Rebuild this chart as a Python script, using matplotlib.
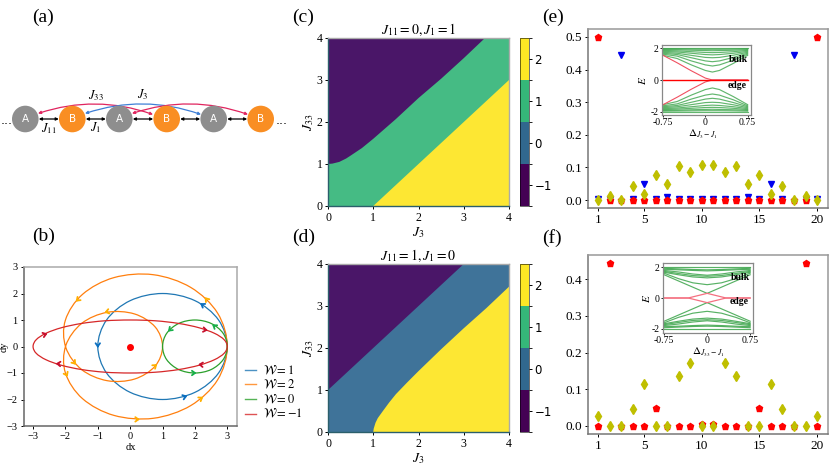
import matplotlib
matplotlib.use("Agg")
import matplotlib.pyplot as plt
import numpy as np
from matplotlib.path import Path
from matplotlib.patches import PathPatch, Circle, FancyArrowPatch
from matplotlib.colors import ListedColormap, BoundaryNorm
from matplotlib.cm import ScalarMappable

plt.rcParams['font.family'] = ['Liberation Serif', 'DejaVu Serif']
plt.rcParams['mathtext.fontset'] = 'stix'

# ---------- panel (b) loops ----------
blue_x = [3, 2.73, 2, 1, 0, -.73, -1, -.73, 0, 1, 2, 2.73]
blue_y = [0, 1, 1.73, 2, 1.73, 1, 0, -1, -1.73, -2, -1.73, -1]
green_x = [3, 2.87, 2.5, 2, 1.5, 1.13, 1, 1.13, 1.5, 2, 2.5, 2.87]
green_y = [0, .5, .87, 1, .87, .5, 0, -.5, -.87, -1, -.87, -.5]
red_x = [3, 2.9, 2.6, 2.12, 1.5, .78, 0, -.78, -1.5, -2.12, -2.6, -2.9,
         -3, -2.9, -2.6, -2.12, -1.5, -.78, 0, .78, 1.5, 2.12, 2.6, 2.9]
red_y = [0, .26, .5, .71, .87, .97, 1, .97, .87, .71, .5, .26,
         0, -.26, -.5, -.71, -.87, -.97, -1, -.97, -.87, -.71, -.5, -.26]
orange_x = [3, 2.70, 1.87, .71, -.5, -1.47, -2, -1.99, -1.5, -.71, .13, .77,
            1, .77, .13, -.71, -1.5, -1.99, -2, -1.47, -.5, .71, 1.87, 2.70]
orange_y = [0, 1.26, 2.23, 2.71, 2.6, 1.97, 1, -.03, -.87, -1.29, -1.23, -.74,
            0, .74, 1.23, 1.29, .87, .03, -1, -1.97, -2.6, -2.71, -2.23, -1.26]
loop_labels = [r'$\mathcal{W}=1$', r'$\mathcal{W}=2$', r'$\mathcal{W}=0$', r'$\mathcal{W}=-1$']
loop_colors = ['#1f77b4', '#ff7f0e', '#2ca02c', '#d62728']

# arrow position (x, y) and direction (dx, dy)
arrows_blue = [(-1, 0, 0, -1), (2.2, 1.6, -1, .8), (1.72, -1.88, 1, .4)]
arrows_orange = [(2.33, 1.82, -.7, 1), (-1.65, 1.73, -.7, -.8), (-.75, 1.3, -1, -.3),
                 (.8, -.7, .8, .8), (-1.7, -.65, .6, -.9), (-1.95, -1.1, .4, -1),
                 (.25, -2.75, 1, 0), (2.22, -1.93, 1, .8)]
arrows_green = [(1.2, .6, -.7, -.8), (2, -1, 1, 0), (2.57, .8, -.8, .7)]
arrows_red = [(-2.6, .47, 1, .4), (2.35, .62, 1, -.2), (-2.25, -.65, -1, .1), (2.15, -.68, -1, .1)]

# ---------- panels (c), (d) phase boundaries ----------
c_up_x = [0, .1, .25, .4, .5, .75, 1, 1.5, 2, 2.5, 3, 3.47, 4]
c_up_y = [1, 1.01, 1.05, 1.13, 1.2, 1.38, 1.6, 2.07, 2.57, 3.03, 3.52, 4, 4]
c_lo_x = [0, 1, 4]
c_lo_y = [0, 0, 3]
d_up_x = [0, 3, 4]
d_up_y = [1, 4, 4]
d_lo_x = [0, 1, 1.01, 1.05, 1.1, 1.2, 1.35, 1.5, 1.75, 2, 2.5, 3, 3.5, 4]
d_lo_y = [0, 0, .08, .22, .33, .48, .7, .9, 1.18, 1.45, 1.97, 2.47, 2.95, 3.46]
phase_ticks = [-1, 0, 1, 2]

# ---------- panels (e), (f) ----------
sites = list(range(1, 21))
e_red = [.5, 0, 0, 0, 0, 0, 0, 0, 0, 0, 0, 0, 0, 0, 0, 0, 0, 0, 0, .5]
e_blue = [.002, .002, .445, .002, .05, .002, .008, .002, .002, .002,
          .002, .002, .002, .008, .002, .05, .002, .445, .002, .002]
e_yellow = [0, .012, 0, .042, .018, .078, .05, .103, .085, .106,
            .106, .085, .103, .05, .078, .018, .042, 0, .012, 0]
f_red = [0, .445, 0, 0, 0, .05, 0, 0, 0, .006, .006, 0, 0, 0, .05, 0, 0, 0, .445, 0]
f_yellow = [.028, 0, 0, .047, .115, 0, 0, .137, .172, 0,
            0, .172, .137, 0, 0, .115, .047, 0, 0, .028]

# ---------- insets ----------
ie_delta = [-.75, -.5, -.25, 0, .125, .25, .5, .75]
ie_bands = [
    [1.55, 1.35, .95, .6, .5, .6, 1.05, 1.55],
    [1.62, 1.5, 1.2, .95, .88, .95, 1.25, 1.62],
    [1.68, 1.6, 1.4, 1.2, 1.15, 1.2, 1.42, 1.68],
    [1.74, 1.68, 1.55, 1.42, 1.4, 1.42, 1.56, 1.74],
    [1.8, 1.76, 1.68, 1.6, 1.58, 1.6, 1.68, 1.8],
    [1.86, 1.83, 1.78, 1.73, 1.72, 1.73, 1.78, 1.86],
    [1.91, 1.9, 1.87, 1.85, 1.84, 1.85, 1.87, 1.91],
    [1.96, 1.95, 1.94, 1.93, 1.93, 1.93, 1.94, 1.96],
    [2, 2, 2, 2, 2, 2, 2, 2],
]
ie_edge_x = [-.75, -.5, -.25, 0, .125, .75]
ie_edge_y = [1.55, 1.08, .58, .12, 0, 0]

if_delta = [-.75, -.5, -.25, 0, .25, .5, .75]
if_bands = [
    [1.6, 1.25, .98, .86, .98, 1.25, 1.6],
    [1.66, 1.5, 1.36, 1.3, 1.36, 1.5, 1.66],
    [1.72, 1.58, 1.45, 1.4, 1.45, 1.58, 1.72],
    [1.78, 1.68, 1.55, 1.47, 1.55, 1.68, 1.78],
    [1.85, 1.82, 1.78, 1.75, 1.78, 1.82, 1.85],
    [1.92, 1.88, 1.84, 1.82, 1.84, 1.88, 1.92],
    [2, 2, 2, 2, 2, 2, 2],
]
if_v_x = [-.75, 0, .75]
if_v_y = [1.5, .3, 1.5]
if_edge_x = [-.75, -.33, 0, .33, .75]
if_edge_y = [0, 0, .3, 0, 0]

W, H = 830, 467
fig = plt.figure(figsize=(8.3, 4.67), dpi=100)


def px_axes(l, t, r, b, **kw):
    return fig.add_axes([l / W, 1 - b / H, (r - l) / W, (b - t) / H], **kw)


def style_spines(ax, lw=1.0, near='#555555', far='#999999'):
    for s in ('left', 'bottom'):
        ax.spines[s].set_color(near)
        ax.spines[s].set_linewidth(lw)
    for s in ('top', 'right'):
        ax.spines[s].set_color(far)
        ax.spines[s].set_linewidth(lw)


def closed_curve(x, y):
    pts = np.column_stack([x, y])
    n = len(pts)
    verts = [pts[0]]
    codes = [Path.MOVETO]
    for i in range(n):
        p0, p1, p2, p3 = pts[i - 1], pts[i], pts[(i + 1) % n], pts[(i + 2) % n]
        verts += [p1 + (p2 - p0) / 6, p2 - (p3 - p1) / 6, p2]
        codes += [Path.CURVE4] * 3
    return Path(verts, codes)


# overlay for schematic and panel letters
ov = fig.add_axes([0, 0, 1, 1], zorder=5)
ov.set_xlim(0, W)
ov.set_ylim(H, 0)
ov.axis('off')
ov.patch.set_alpha(0)

for lab, x, y in [('(a)', 32, 17), ('(b)', 32, 236), ('(c)', 292, 17),
                  ('(d)', 292, 237), ('(e)', 542, 17), ('(f)', 542, 238)]:
    ov.text(x, y, lab, fontsize=14, va='center', ha='left')

node_x = [25.3, 72.3, 119.3, 166.7, 213.7, 260.7]
node_lab = ['A', 'B', 'A', 'B', 'A', 'B']
node_col = {'A': '#8e8e8e', 'B': '#f98e23'}
for x, l in zip(node_x, node_lab):
    ov.add_patch(Circle((x, 119), 13.3, fc=node_col[l], ec='none', zorder=3))
    ov.text(x, 119, l, color='white', family='DejaVu Sans', fontsize=7.5,
            ha='center', va='center', zorder=4)
for a, b in zip(node_x[:-1], node_x[1:]):
    ov.add_patch(FancyArrowPatch((a + 13.5, 119), (b - 13.5, 119), arrowstyle='<|-|>',
                                 mutation_scale=4, lw=.9, color='black', shrinkA=0, shrinkB=0))
for x0, x1, c in [(38, 153, '#e0245e'), (85, 201, '#3f7fd6'), (132, 248, '#e0245e')]:
    ov.add_patch(FancyArrowPatch((x0, 113.5), (x1, 114.5), arrowstyle='<|-|>', mutation_scale=4,
                                 lw=.9, color=c, shrinkA=0, shrinkB=0,
                                 connectionstyle='arc3,rad=-0.17', zorder=2))
ov.text(1, 121, '...', fontsize=9, va='center', family='DejaVu Sans')
ov.text(276, 121, '...', fontsize=9, va='center', family='DejaVu Sans')
ov.text(96, 96, r'$J_{33}$', fontsize=9, ha='center', va='center')
ov.text(143, 95, r'$J_{3}$', fontsize=9, ha='center', va='center')
ov.text(49, 129, r'$J_{11}$', fontsize=9, ha='center', va='center')
ov.text(96, 128, r'$J_{1}$', fontsize=9, ha='center', va='center')

# (b)
axb = px_axes(24, 267, 237, 426)
axb.set_xlim(-3.28, 3.3)
axb.set_ylim(-3, 3)
curves = [(blue_x, blue_y), (orange_x, orange_y), (green_x, green_y), (red_x, red_y)]
handles = []
for (cx, cy), c, lab in zip(curves, loop_colors, loop_labels):
    axb.add_patch(PathPatch(closed_curve(cx, cy), fc='none', ec=c, lw=.9))
    handles.append(plt.Line2D([], [], color=c, lw=1, alpha=.8, label=lab))
for arr, c in [(arrows_blue, '#0a6fc0'), (arrows_orange, '#ffb000'),
               (arrows_green, '#17b04a'), (arrows_red, '#c8102e')]:
    for x, y, dx, dy in arr:
        n = np.hypot(dx, dy)
        axb.annotate('', xy=(x + .05 * dx / n, y + .05 * dy / n),
                     xytext=(x - .05 * dx / n, y - .05 * dy / n),
                     arrowprops=dict(arrowstyle='->,head_length=.22,head_width=.16',
                                     color=c, lw=1.3, shrinkA=0, shrinkB=0))
axb.plot([0], [0], 'o', color='red', ms=4)
axb.set_xticks([-3, -2, -1, 0, 1, 2, 3])
axb.set_yticks([-3, -2, -1, 0, 1, 2, 3])
axb.tick_params(labelsize=7.5, length=2.5, width=.7, pad=2)
axb.set_xlabel('dx', fontsize=7.5, labelpad=1)
axb.set_ylabel('dy', fontsize=7.5, labelpad=-1)
style_spines(axb, 1.1, '#666666', '#aaaaaa')
axb.legend(handles=handles, loc='center left', bbox_to_anchor=(1.02, .21), frameon=False,
           fontsize=9, labelspacing=.12, handlelength=.9, handletextpad=.55,
           borderaxespad=.3, borderpad=0)

# (c), (d)
band_cols = ['#440154', '#31688e', '#35b779', '#fde725']
shown = ['#4a1668', '#3f7399', '#45bb84', '#fde733']
cmap = ListedColormap(band_cols)
norm = BoundaryNorm([-1.5, -.5, .5, 1.5, 2.5], 4)


def phase(ax, up_x, up_y, lo_x, lo_y, mid, title):
    ax.set_facecolor(mid)
    ax.fill(list(up_x) + [0], list(up_y) + [4], color=shown[0], lw=0)
    ax.fill(list(lo_x) + [4], list(lo_y) + [0], color=shown[3], lw=0)
    ax.set_xlim(0, 4)
    ax.set_ylim(0, 4)
    ax.set_xticks(range(5))
    ax.set_yticks(range(5))
    ax.tick_params(labelsize=8.5, length=2.5, width=.7, pad=1.5)
    ax.set_xlabel(r'$J_3$', fontsize=10, labelpad=1)
    ax.set_ylabel(r'$J_{33}$', fontsize=10, labelpad=0)
    ax.set_title(title, fontsize=10, pad=2)
    style_spines(ax, 1.0, '#2b5f6b', '#aaaaaa')


axc = px_axes(328, 38, 509, 206)
phase(axc, c_up_x, c_up_y, c_lo_x, c_lo_y, shown[2], r'$J_{11}=0, J_1=1$')
axd = px_axes(328, 264, 509, 432)
phase(axd, d_up_x, d_up_y, d_lo_x, d_lo_y, shown[1], r'$J_{11}=1, J_1=0$')
for t, b in [(38, 206), (264, 432)]:
    cax = px_axes(520, t, 529, b)
    cb = fig.colorbar(ScalarMappable(norm=norm, cmap=cmap), cax=cax, ticks=phase_ticks)
    cb.ax.tick_params(labelsize=8.5, length=2.5, width=.7, pad=1.5)
    cb.ax.set_yticklabels(['\u22121', '0', '1', '2'], family='DejaVu Sans')
    cb.outline.set_linewidth(.4)


# (e), (f)
def sites_style(ax):
    ax.set_xlim(.13, 20.95)
    ax.set_xticks([1, 5, 10, 15, 20])
    ax.tick_params(labelsize=9.5, length=2.5, width=.7, pad=2)
    style_spines(ax, 1.1, '#777777', '#999999')


axe = px_axes(588, 29, 828, 208)
axe.plot(sites, e_blue, 'v', color='#0000ee', ms=4.5, ls='none')
axe.plot(sites, e_red, 'p', color='red', ms=5, ls='none')
axe.plot(sites, e_yellow, 'd', color='#bfbf00', ms=5.5, ls='none')
axe.set_ylim(-.0245, .5245)
axe.set_yticks([0, .1, .2, .3, .4, .5])
axe.set_yticklabels(['0.0', '0.1', '0.2', '0.3', '0.4', '0.5'])
sites_style(axe)

axf = px_axes(588, 255, 828, 434)
axf.plot(sites, f_red, 'p', color='red', ms=5, ls='none')
axf.plot(sites, f_yellow, 'd', color='#bfbf00', ms=5.5, ls='none')
axf.set_ylim(-.022, .466)
axf.set_yticks([0, .1, .2, .3, .4])
axf.set_yticklabels(['0.0', '0.1', '0.2', '0.3', '0.4'])
sites_style(axf)


def inset_style(ax, xlim, ylim):
    ax.set_xlim(*xlim)
    ax.set_ylim(*ylim)
    ax.set_xticks([-.75, 0, .75])
    ax.set_xticklabels(['-0.75', '0', '0.75'])
    ax.set_yticks([-2, 0, 2])
    ax.set_yticklabels(['-2', '0', '2'])
    ax.tick_params(labelsize=7, length=1.5, width=.6, pad=1)
    for s in ax.spines.values():
        s.set_color('#888888')
        s.set_linewidth(.9)


green = '#2e9e3e'
ie = px_axes(662, 45, 751, 115, zorder=3)
for band in ie_bands:
    ie.plot(ie_delta, band, color=green, lw=.85, alpha=.75)
    ie.plot(ie_delta, -np.array(band), color=green, lw=.85, alpha=.75)
ie.plot(ie_edge_x, ie_edge_y, color='#f05060', lw=.8)
ie.plot(ie_edge_x, -np.array(ie_edge_y), color='#f05060', lw=.8)
ie.plot([-.75, .75], [0, 0], color='red', lw=1)
inset_style(ie, (-.77, .81), (-2.2, 2.2))
ov.text(738, 60, 'bulk', fontsize=7, weight='bold', ha='center', va='center')
ov.text(737, 86, 'edge', fontsize=7, weight='bold', ha='center', va='center')
ov.text(703, 134, r'$\Delta_{J_3-J_1}$', fontsize=8, ha='center', va='center')
ov.text(642, 80, r'$E$', fontsize=8, rotation=90, ha='center', va='center')

fi = px_axes(663, 263, 753, 333, zorder=3)
for band in if_bands:
    fi.plot(if_delta, band, color=green, lw=.85, alpha=.8)
    fi.plot(if_delta, -np.array(band), color=green, lw=.85, alpha=.8)
fi.plot(if_v_x, if_v_y, color=green, lw=.85, alpha=.8)
fi.plot(if_v_x, -np.array(if_v_y), color=green, lw=.85, alpha=.8)
fi.plot(if_edge_x, if_edge_y, color='#f47080', lw=.9)
fi.plot(if_edge_x, -np.array(if_edge_y), color='#f47080', lw=.9)
inset_style(fi, (-.77, .8), (-2.26, 2.26))
ov.text(740, 277, 'bulk', fontsize=7, weight='bold', ha='center', va='center')
ov.text(739, 302, 'edge', fontsize=7, weight='bold', ha='center', va='center')
ov.text(708, 352, r'$\Delta_{J_{33}-J_1}$', fontsize=8, ha='center', va='center')
ov.text(646, 298, r'$E$', fontsize=8, rotation=90, ha='center', va='center')

fig.savefig('out.png', dpi=100)
